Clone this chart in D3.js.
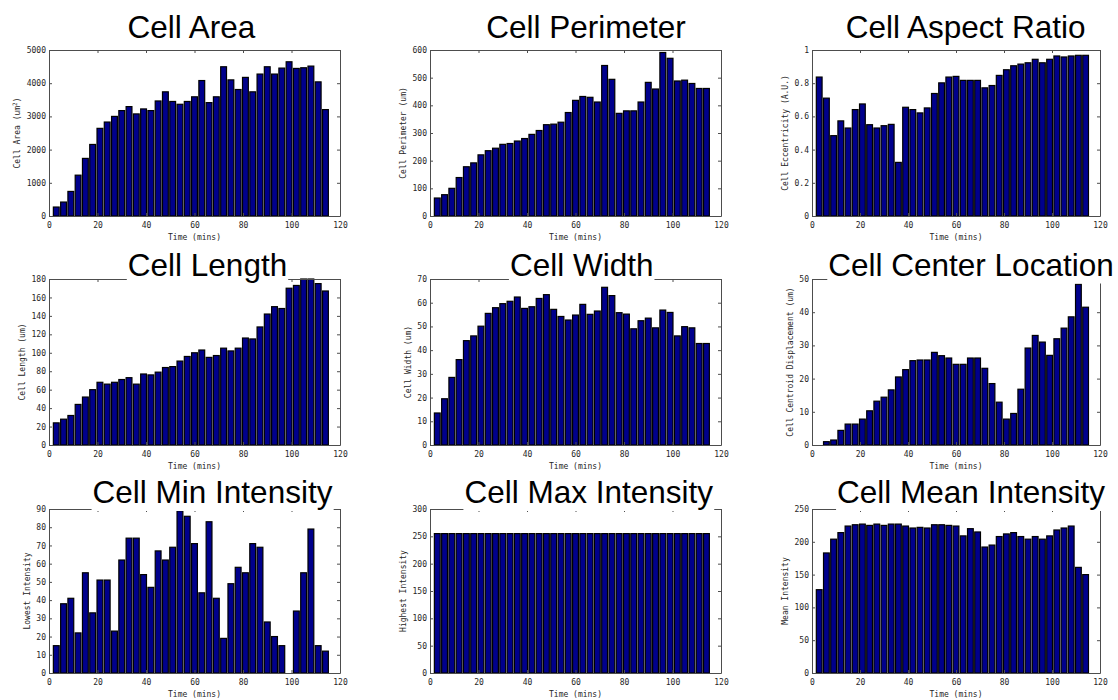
<!DOCTYPE html>
<html>
<head>
<meta charset="utf-8">
<script src="https://cdn.jsdelivr.net/npm/d3@7"></script>
<style>
  body { margin: 0; background: #fff; }
  svg { display: block; }
</style>
</head>
<body>
<svg id="fig" width="1118" height="700"></svg>
<script>
// Sampling times (minutes) shared by every panel
const times = [3, 6, 9, 12, 15, 18, 21, 24, 27, 30, 33, 36, 39, 42, 45, 48, 51, 54, 57,
               60, 63, 66, 69, 72, 75, 78, 81, 84, 87, 90, 93, 96, 99, 102, 105, 108, 111, 114];
const xTicks = [0, 20, 40, 60, 80, 100, 120];

// Per-frame cell measurements
const cellArea = [270, 420, 740, 1230, 1735, 2155, 2640, 2830, 3000, 3175, 3295, 3075, 3225,
                  3175, 3465, 3740, 3450, 3365, 3450, 3590, 4080, 3415, 3590, 4495, 4100, 3810,
                  4175, 3740, 4275, 4495, 4275, 4455, 4645, 4445, 4465, 4515, 4040, 3205];
const cellPerimeter = [65, 77, 100, 139, 178, 192, 221, 236, 245, 259, 262, 271, 280, 295, 309,
                       330, 332, 339, 374, 418, 432, 429, 412, 544, 494, 371, 380, 380, 412, 483,
                       459, 591, 570, 488, 491, 479, 461, 461];
const cellEccentricity = [0.837, 0.710, 0.484, 0.573, 0.530, 0.641, 0.675, 0.550, 0.530, 0.544,
                          0.552, 0.323, 0.655, 0.641, 0.621, 0.651, 0.738, 0.802, 0.837, 0.841,
                          0.817, 0.817, 0.817, 0.772, 0.786, 0.847, 0.881, 0.905, 0.915, 0.923,
                          0.944, 0.923, 0.944, 0.964, 0.958, 0.964, 0.968, 0.968];
const cellLength = [24, 28, 32, 44, 52, 60, 68, 66, 68, 71, 73, 66, 77, 76, 79, 84, 85, 91, 96,
                    100, 103, 95, 97, 105, 102, 105, 116, 115, 128, 142, 150, 148, 170, 173, 180,
                    180, 175, 167];
const cellWidth = [13.5, 19.5, 28.5, 36, 44, 46, 50.1, 55.5, 57.9, 59.6, 60.6, 62.4, 57.6, 58.3,
                   61.8, 63.4, 57.2, 54.2, 52.7, 54.8, 59.3, 55.1, 56.5, 66.5, 63, 55.8, 55.2, 49,
                   52.4, 53.5, 49.4, 56.9, 55.9, 46, 49.9, 49.4, 42.8, 42.8];
const centroidDisplacement = [0, 1.0, 1.5, 4.4, 6.3, 6.3, 7.8, 10.3, 13.2, 14.4, 16.6, 20.5, 22.7,
                              25.4, 25.6, 25.6, 27.9, 26.9, 26.2, 24.3, 24.3, 26.2, 26.2, 23.1,
                              18.5, 12.9, 7.8, 9.5, 16.8, 29.2, 33.0, 31.0, 27.0, 32.0, 35.2,
                              38.6, 48.4, 41.5];
const minIntensity = [15, 38, 41, 22, 55, 33, 51, 51, 23, 62, 74, 74, 54, 47, 67, 62, 69, 89, 86,
                      71, 44, 83, 41, 19, 49, 58, 55, 71, 69, 28, 20, 15, 0, 34, 55, 79, 15, 12];
const maxIntensity = [255, 255, 255, 255, 255, 255, 255, 255, 255, 255, 255, 255, 255, 255, 255,
                      255, 255, 255, 255, 255, 255, 255, 255, 255, 255, 255, 255, 255, 255, 255,
                      255, 255, 255, 255, 255, 255, 255, 255];
const meanIntensity = [127, 183, 204, 214, 224, 226, 227, 225, 227, 225, 227, 227, 224, 221, 222,
                       221, 226, 226, 225, 224, 209, 220, 215, 192, 195, 208, 212, 214, 208, 204,
                       208, 204, 209, 218, 221, 224, 161, 150];

// Y tick values per panel
const areaTicks = [0, 1000, 2000, 3000, 4000, 5000];
const perimeterTicks = [0, 100, 200, 300, 400, 500, 600];
const eccentricityTicks = [0, 0.2, 0.4, 0.6, 0.8, 1];
const lengthTicks = [0, 20, 40, 60, 80, 100, 120, 140, 160, 180];
const widthTicks = [0, 10, 20, 30, 40, 50, 60, 70];
const displacementTicks = [0, 10, 20, 30, 40, 50];
const minTicks = [0, 10, 20, 30, 40, 50, 60, 70, 80, 90];
const maxTicks = [0, 50, 100, 150, 200, 250, 300];
const meanTicks = [0, 50, 100, 150, 200, 250];

const titles = ["Cell Area", "Cell Perimeter", "Cell Aspect Ratio",
                "Cell Length", "Cell Width", "Cell Center Location",
                "Cell Min Intensity", "Cell Max Intensity", "Cell Mean Intensity"];
const yLabels = ["Cell Area (um²)", "Cell Perimeter (um)", "Cell Eccentricity (A.U.)",
                 "Cell Length (um)", "Cell Width (um)", "Cell Centroid Displacement (um)",
                 "Lowest Intensity", "Highest Intensity", "Mean Intensity"];
const xLabel = "Time (mins)";

const series = [cellArea, cellPerimeter, cellEccentricity, cellLength, cellWidth,
                centroidDisplacement, minIntensity, maxIntensity, meanIntensity];
const yTickSets = [areaTicks, perimeterTicks, eccentricityTicks, lengthTicks, widthTicks,
                   displacementTicks, minTicks, maxTicks, meanTicks];

// Layout
const colLeft = [49, 430, 812], colWidth = [291, 291, 288];
const rowTop = [50, 279, 509], rowHeight = [166, 166, 164];
const titleX = [[191.5, 586, 965.7], [207.5, 581.7, 971], [212.5, 588.7, 971]];
const titleBaseline = [38, 275.5, 503];
const barWidth = 2.4;           // 0.8 of the 3-minute spacing
const barFill = "#00008c";
const frameColor = "#4d4d4d";
const tickFont = "'DejaVu Sans Mono', monospace";
const titleFont = "'Liberation Sans', Arial, sans-serif";

const svg = d3.select("#fig");
svg.append("rect").attr("width", 1118).attr("height", 700).attr("fill", "#fff");

const axesLayer = svg.append("g");
const titleLayer = svg.append("g");

series.forEach((values, i) => {
  const r = Math.floor(i / 3), c = i % 3;
  const w = colWidth[c], h = rowHeight[r];
  const ticks = yTickSets[i];
  const yMax = ticks[ticks.length - 1];

  const g = axesLayer.append("g").attr("transform", `translate(${colLeft[c]},${rowTop[r]})`);
  const x = d3.scaleLinear().domain([0, 120]).range([0, w]);
  const y = d3.scaleLinear().domain([0, yMax]).range([h, 0]);

  // bars
  g.append("g").selectAll("rect")
    .data(times.map((t, k) => ({ t, v: Math.min(values[k], yMax) })))
    .join("rect")
    .attr("x", d => x(d.t - barWidth / 2))
    .attr("width", x(barWidth) - x(0))
    .attr("y", d => y(d.v))
    .attr("height", d => h - y(d.v))
    .attr("fill", barFill)
    .attr("stroke", "#000")
    .attr("stroke-width", 1.2);

  const fmt = d3.format("~g");
  const styleAxis = sel => {
    sel.selectAll("path.domain").attr("stroke", frameColor);
    sel.selectAll(".tick line").attr("stroke", frameColor);
    sel.selectAll("text").attr("fill", "#262626")
      .style("font-family", tickFont).style("font-size", "8px");
  };

  const bottom = g.append("g").attr("transform", `translate(0,${h})`)
    .call(d3.axisBottom(x).tickValues(xTicks).tickSize(-3).tickSizeOuter(0).tickPadding(6).tickFormat(fmt))
    .call(styleAxis);
  bottom.attr("font-size", null).attr("font-family", null);

  g.append("g")
    .call(d3.axisTop(x).tickValues(xTicks).tickSize(-3).tickSizeOuter(0).tickFormat(""))
    .call(styleAxis);

  const left = g.append("g")
    .call(d3.axisLeft(y).tickValues(ticks).tickSize(-3).tickSizeOuter(0).tickPadding(3).tickFormat(fmt))
    .call(styleAxis);
  left.attr("font-size", null).attr("font-family", null);

  g.append("g").attr("transform", `translate(${w},0)`)
    .call(d3.axisRight(y).tickValues(ticks).tickSize(-3).tickSizeOuter(0).tickFormat(""))
    .call(styleAxis);

  // x label
  g.append("text")
    .attr("x", w / 2).attr("y", h + 24)
    .attr("text-anchor", "middle")
    .attr("fill", "#262626")
    .style("font-family", tickFont).style("font-size", "8px")
    .text(xLabel);

  // y label placed just left of the widest tick label
  let maxW = 0;
  left.selectAll("text").each(function () { maxW = Math.max(maxW, this.getBBox().width); });
  const cx = -3 - maxW - 9;
  const yl = g.append("text")
    .attr("transform", `translate(${cx + 2.9},${h / 2}) rotate(-90)`)
    .attr("text-anchor", "middle")
    .attr("fill", "#262626")
    .style("font-family", tickFont).style("font-size", "8px");
  const label = yLabels[i];
  if (label.includes("²")) {
    const [pre, post] = label.split("²");
    yl.append("tspan").text(pre);
    yl.append("tspan").attr("dy", -3).style("font-size", "6px").text("2");
    yl.append("tspan").attr("dy", 3).text(post);
  } else {
    yl.text(label);
  }

  // title on a white label box
  const tg = titleLayer.append("g");
  const box = tg.append("rect").attr("fill", "#fff");
  const tt = tg.append("text")
    .attr("x", titleX[r][c]).attr("y", titleBaseline[r])
    .attr("text-anchor", "middle")
    .attr("fill", "#000")
    .style("font-family", titleFont).style("font-size", "31.5px")
    .text(titles[i]);
  const bb = tt.node().getBBox();
  box.attr("x", bb.x - 1).attr("y", bb.y - 1)
     .attr("width", bb.width + 2).attr("height", bb.height + 2);
});
</script>
</body>
</html>
